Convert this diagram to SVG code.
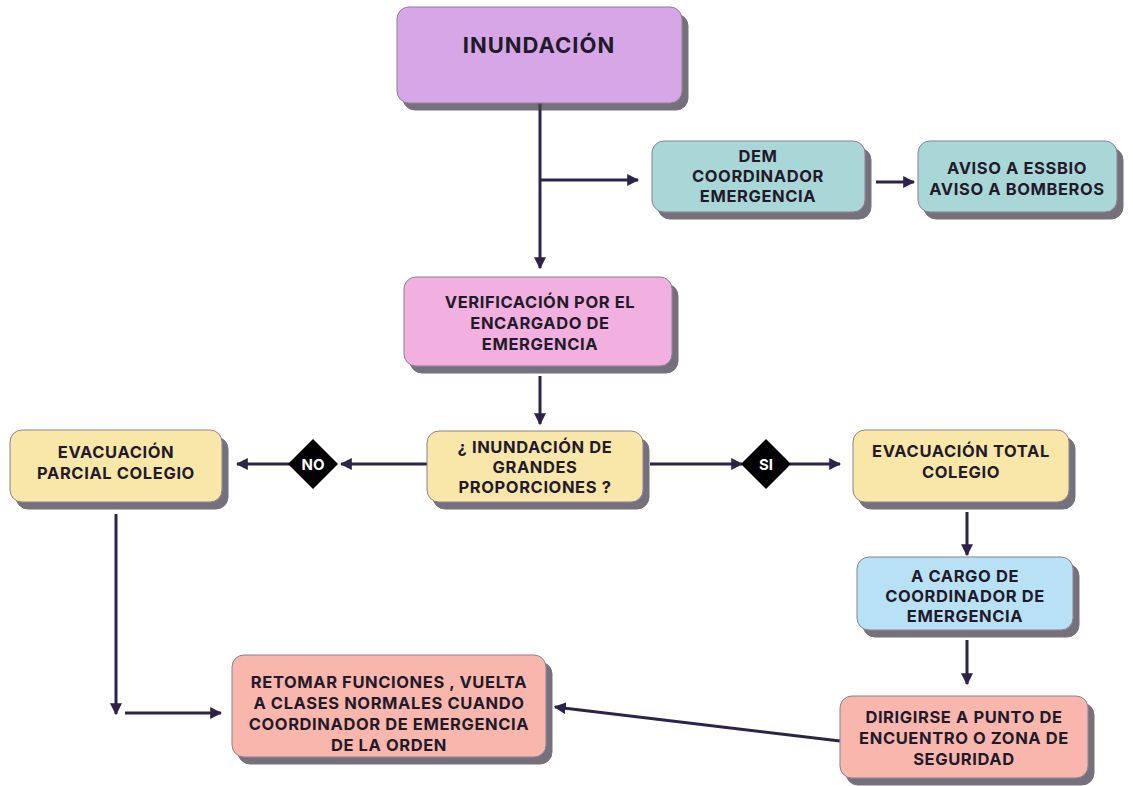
<svg xmlns="http://www.w3.org/2000/svg" width="1133" height="786" viewBox="0 0 1133 786">
<defs>
<marker id="ah" viewBox="0 0 10 10" refX="9" refY="5" markerWidth="4" markerHeight="4" orient="auto-start-reverse" markerUnits="strokeWidth">
<path d="M0,0 L10,5 L0,10 z" fill="#2e2248"/>
</marker>
<filter id="sh" x="-5%" y="-5%" width="115%" height="125%">
<feOffset dx="6" dy="7" in="SourceAlpha" result="o"/>
<feComponentTransfer in="o" result="c"><feFuncA type="linear" slope="0.75"/></feComponentTransfer>
<feFlood flood-color="#48424f"/>
<feComposite in2="c" operator="in" result="s"/>
<feMerge><feMergeNode in="s"/><feMergeNode in="SourceGraphic"/></feMerge>
</filter>
</defs>
<style>
.box{stroke:#8a8090;stroke-width:1;filter:url(#sh)}
.t{font-family:Inter,"Liberation Sans",sans-serif;font-weight:700;font-size:16.5px;letter-spacing:0.6px;fill:#221a2a;text-anchor:middle}
.big{font-size:22px;letter-spacing:1px}
.c{stroke:#2e2248;stroke-width:3;fill:none}
.ca{stroke:#2e2248;stroke-width:3;fill:none;marker-end:url(#ah)}
.d{fill:#000}
.dt{font-family:Inter,"Liberation Sans",sans-serif;font-weight:700;font-size:15px;fill:#fff;text-anchor:middle}
</style>
<rect width="1133" height="786" fill="#fff"/>
<g id="connectors">
<path class="c" d="M540,103 V180"/>
<path class="ca" d="M540,180 V268"/>
<path class="ca" d="M540,180 H638"/>
<path class="ca" d="M876,182 H914"/>
<path class="ca" d="M540,376 V424"/>
<path class="ca" d="M427,464 H341"/>
<path class="ca" d="M290,464 H237"/>
<path class="ca" d="M650,464 H742"/>
<path class="ca" d="M790,464 H840"/>
<path class="ca" d="M967,512 V555"/>
<path class="ca" d="M967,640 V684"/>
<path class="ca" d="M840,741 L555,707"/>
<path class="ca" d="M116,514 V714"/>
<path class="ca" d="M125,713 H221"/>
</g>
<g id="no">
<path class="d" d="M313,439 L338,464 L313,489 L288,464 z"/>
<text class="dt" x="313" y="469.5">NO</text>
</g>
<g id="si">
<path class="d" d="M766,439 L791,464 L766,489 L741,464 z"/>
<text class="dt" x="766" y="469.5">SI</text>
</g>
<g id="inundacion">
<rect class="box" x="397" y="7" width="285" height="96" rx="12" fill="#d7a6e6"/>
<text class="t big" x="539" y="53">INUNDACIÓN</text>
</g>
<g id="dem">
<rect class="box" x="652" y="141" width="213" height="71" rx="12" fill="#a9d6d6"/>
<text class="t" x="758" y="162">DEM</text>
<text class="t" x="758" y="182">COORDINADOR</text>
<text class="t" x="758" y="202">EMERGENCIA</text>
</g>
<g id="aviso">
<rect class="box" x="918" y="141" width="199" height="71" rx="12" fill="#a9d6d6"/>
<text class="t" x="1017" y="174">AVISO A ESSBIO</text>
<text class="t" x="1017" y="195">AVISO A BOMBEROS</text>
</g>
<g id="verificacion">
<rect class="box" x="404" y="277" width="268" height="89" rx="12" fill="#f1b0df"/>
<text class="t" x="540" y="308">VERIFICACIÓN POR EL</text>
<text class="t" x="540" y="329">ENCARGADO DE</text>
<text class="t" x="540" y="350">EMERGENCIA</text>
</g>
<g id="pregunta">
<rect class="box" x="427" y="431" width="216" height="71" rx="12" fill="#f9e6a9"/>
<text class="t" x="535" y="453">¿ INUNDACIÓN DE</text>
<text class="t" x="535" y="473">GRANDES</text>
<text class="t" x="535" y="493">PROPORCIONES ?</text>
</g>
<g id="parcial">
<rect class="box" x="10" y="430" width="212" height="72" rx="12" fill="#f9e6a9"/>
<text class="t" x="116" y="458">EVACUACIÓN</text>
<text class="t" x="116" y="479">PARCIAL COLEGIO</text>
</g>
<g id="total">
<rect class="box" x="853" y="430" width="216" height="72" rx="12" fill="#f9e6a9"/>
<text class="t" x="961" y="457">EVACUACIÓN TOTAL</text>
<text class="t" x="961" y="478">COLEGIO</text>
</g>
<g id="cargo">
<rect class="box" x="857" y="557" width="216" height="73" rx="12" fill="#b8e1f6"/>
<text class="t" x="965" y="582">A CARGO DE</text>
<text class="t" x="965" y="602">COORDINADOR DE</text>
<text class="t" x="965" y="622">EMERGENCIA</text>
</g>
<g id="dirigirse">
<rect class="box" x="840" y="696" width="248" height="82" rx="12" fill="#f8b6ad"/>
<text class="t" x="964" y="723">DIRIGIRSE A PUNTO DE</text>
<text class="t" x="964" y="744">ENCUENTRO O ZONA DE</text>
<text class="t" x="964" y="765">SEGURIDAD</text>
</g>
<g id="retomar">
<rect class="box" x="232" y="655" width="314" height="102" rx="12" fill="#f8b6ad"/>
<text class="t" x="389" y="688">RETOMAR FUNCIONES , VUELTA</text>
<text class="t" x="389" y="709">A CLASES NORMALES CUANDO</text>
<text class="t" x="389" y="730">COORDINADOR DE EMERGENCIA</text>
<text class="t" x="389" y="751">DE LA ORDEN</text>
</g>
</svg>
